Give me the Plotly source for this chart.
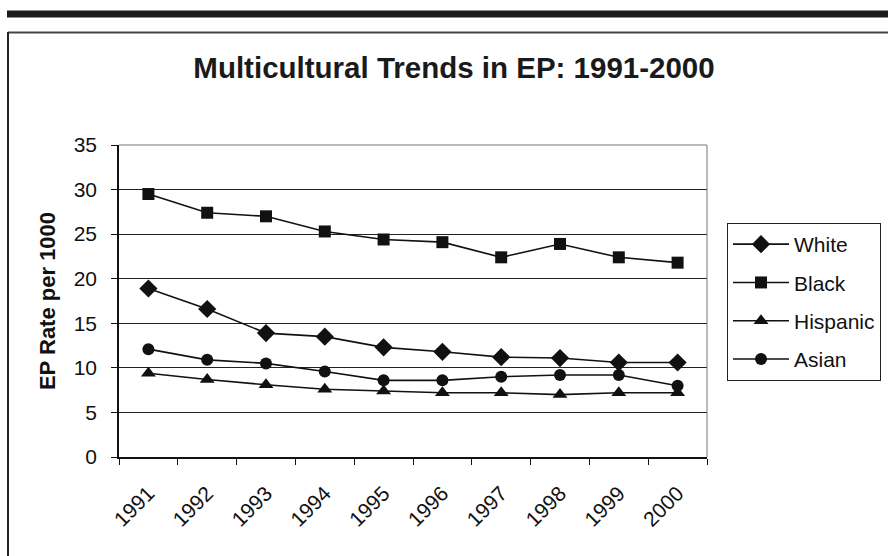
import plotly.graph_objects as go

years = ["1991", "1992", "1993", "1994", "1995", "1996", "1997", "1998", "1999", "2000"]
white = [18.9, 16.6, 13.9, 13.5, 12.3, 11.8, 11.2, 11.1, 10.6, 10.6]
black = [29.5, 27.4, 27.0, 25.3, 24.4, 24.1, 22.4, 23.9, 22.4, 21.8]
hispanic = [9.4, 8.7, 8.1, 7.6, 7.4, 7.2, 7.2, 7.0, 7.2, 7.2]
asian = [12.1, 10.9, 10.5, 9.6, 8.6, 8.6, 9.0, 9.2, 9.2, 8.0]

series = [
    ("White", white, "diamond", 14),
    ("Black", black, "square", 12),
    ("Hispanic", hispanic, "triangle-up", 13),
    ("Asian", asian, "circle", 12),
]

FONT = "Arial, Liberation Sans, sans-serif"
W, H = 888, 556
L, R, T, B = 119, 707, 145, 457
pw, ph = R - L, B - T

def px(x):
    return (x - L) / pw

def py(y):
    return (B - y) / ph

fig = go.Figure()
for name, vals, sym, sz in series:
    fig.add_trace(go.Scatter(
        x=years, y=vals, name=name, mode="lines+markers",
        line=dict(color="#111111", width=1.6),
        marker=dict(symbol=sym, size=sz, color="#111111"),
        legendgroup=name,
    ))

shapes = [
    # thick bar at top
    dict(type="rect", xref="paper", yref="paper", x0=px(7), x1=px(892), y0=py(17.5), y1=py(10.5),
         fillcolor="#1a1a1a", line=dict(width=0), layer="above"),
    # outer frame top and left
    dict(type="line", xref="paper", yref="paper", x0=px(8), x1=px(892), y0=py(32.5), y1=py(32.5),
         line=dict(color="#444444", width=2)),
    dict(type="line", xref="paper", yref="paper", x0=px(8), x1=px(8), y0=py(32), y1=py(560),
         line=dict(color="#222222", width=2)),
    # plot area border (top / right)
    dict(type="line", xref="paper", yref="paper", x0=0, x1=1, y0=1, y1=1,
         line=dict(color="#777777", width=1)),
    dict(type="line", xref="paper", yref="paper", x0=1, x1=1, y0=0, y1=1,
         line=dict(color="#777777", width=1)),
]

fig.update_layout(
    width=W, height=H,
    margin=dict(l=L, r=W - R, t=T, b=H - B, autoexpand=False),
    paper_bgcolor="white", plot_bgcolor="white",
    font=dict(family=FONT, color="#111111", size=20),
    title=dict(text="<b>Multicultural Trends in EP: 1991-2000</b>",
               font=dict(size=29.5, family=FONT, color="#1a1a1a"),
               x=454 / W, xanchor="center", y=1 - 68 / H, yanchor="middle"),
    showlegend=True,
    legend=dict(x=px(727), y=py(223), xanchor="left", yanchor="top",
                bordercolor="#222222", borderwidth=1, bgcolor="white",
                font=dict(size=21, family=FONT, color="#111111"),
                tracegroupgap=8, itemwidth=56),
    shapes=shapes,
)

fig.update_xaxes(
    type="category", range=[-0.5, 9.5], tickangle=-45,
    tickson="boundaries", ticks="outside", ticklen=6, tickcolor="#111111",
    showline=True, linecolor="#111111", linewidth=1.5,
    showgrid=False, ticklabelstandoff=14,
    tickfont=dict(size=21, family=FONT, color="#111111"),
)
fig.update_yaxes(
    range=[0, 35], dtick=5, ticks="outside", ticklen=6, tickcolor="#111111",
    showline=True, linecolor="#111111", linewidth=1.5,
    showgrid=True, gridcolor="#222222", gridwidth=1, zeroline=False,
    ticklabelstandoff=10,
    tickfont=dict(size=21, family=FONT, color="#111111"),
    title=dict(text="<b>EP Rate per 1000</b>", font=dict(size=22, family=FONT, color="#111111"),
               standoff=12),
)

fig.write_html("out.html", config={"displayModeBar": False},
               post_script="document.body.style.margin='0';document.body.style.overflow='hidden';")
